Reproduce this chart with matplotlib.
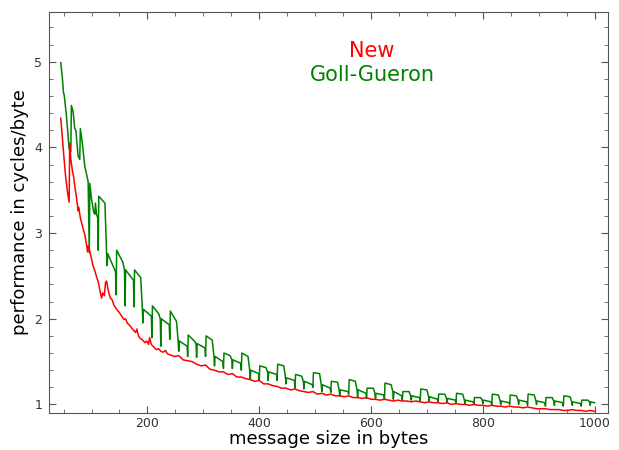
import matplotlib
matplotlib.use("Agg")
import matplotlib.pyplot as plt
from matplotlib.ticker import MultipleLocator

# --- Goll-Gueron: first bytes, drawn vertex by vertex ---
gg_head_x = [45, 48, 50, 51, 55, 60, 63, 64, 67, 70, 72, 76, 79, 80, 83, 88, 94, 96, 97, 100, 104, 106, 107, 109, 111]
gg_head_y = [4.99, 4.80, 4.63, 4.62, 4.38, 3.98, 3.95, 4.49, 4.42, 4.22, 4.20, 3.90, 3.86, 4.22, 4.08, 3.78, 3.60,
             2.77, 3.58, 3.40, 3.24, 3.22, 3.35, 3.22, 3.18]

# --- Goll-Gueron: one step every 32 bytes from 112 on ---
gg_rise = [112, 144, 176, 208, 240, 272, 304, 336, 368, 400, 432, 464, 496, 528,
           560, 592, 624, 656, 688, 720, 752, 784, 816, 848, 880, 912, 944, 976]
gg_dip = [2.80, 2.28, 2.14, 1.78, 1.76, 1.56, 1.56, 1.42, 1.40, 1.28, 1.28, 1.19, 1.20, 1.14,
          1.12, 1.07, 1.06, 1.05, 1.04, 1.02, 1.01, 1.00, 0.99, 1.00, 0.99, 0.98, 0.98, 0.98]
gg_top = [3.43, 2.80, 2.57, 2.15, 2.09, 1.81, 1.80, 1.60, 1.60, 1.45, 1.47, 1.35, 1.37, 1.27,
          1.29, 1.19, 1.25, 1.15, 1.18, 1.12, 1.13, 1.08, 1.12, 1.11, 1.12, 1.08, 1.10, 1.05]
gg_shoulder = [3.35, 2.66, 2.48, 2.06, 1.97, 1.74, 1.75, 1.57, 1.56, 1.43, 1.45, 1.33, 1.36, 1.26,
               1.27, 1.19, 1.23, 1.15, 1.17, 1.12, 1.12, 1.08, 1.11, 1.10, 1.11, 1.08, 1.09, 1.05]
gg_low = [2.76, 2.57, 2.11, 2.00, 1.74, 1.71, 1.56, 1.52, 1.40, 1.38, 1.31, 1.27, 1.23, 1.17,
          1.17, 1.13, 1.15, 1.10, 1.09, 1.07, 1.05, 1.05, 1.04, 1.05, 1.04, 1.04, 1.03, 1.03]
gg_mid_dip = [2.62, 2.15, 1.95, 1.68, 1.62, 1.55, 1.45, 1.42, 1.30, 1.28, 1.24, 1.18, 1.15, 1.10,
              1.08, 1.07, 1.06, 1.05, 1.04, 1.02, 1.01, 1.01, 1.00, 1.00, 1.00, 0.99, 0.99, 0.99]
gg_end = [2.55, 2.45, 2.03, 1.93, 1.68, 1.66, 1.50, 1.48, 1.36, 1.35, 1.28, 1.23, 1.19, 1.15,
          1.13, 1.11, 1.10, 1.08, 1.06, 1.05, 1.03, 1.03, 1.02, 1.03, 1.02, 1.02, 1.01, 1.02]

# --- New ---
new_x = [45, 48, 51, 54, 57, 60, 61, 63, 66, 68, 70, 73, 76, 77, 80, 83, 85, 88, 91, 93,
         94, 97, 100, 103, 106, 109, 112, 115, 118, 120, 123, 125, 127, 129, 131, 134, 137, 140, 143, 146,
         149, 152, 155, 158, 161, 164, 167, 170, 173, 176, 179, 181, 184, 187, 190, 193, 196, 199, 202, 204,
         207, 210, 213, 216, 220, 224, 228, 232, 236, 240] + list(range(248, 1001, 8))
new_y = [4.34, 4.10, 3.86, 3.64, 3.48, 3.36, 4.05, 3.86, 3.72, 3.66, 3.55, 3.42, 3.26, 3.30, 3.18, 3.10, 3.05, 2.98, 2.87, 2.78,
         2.85, 2.79, 2.70, 2.61, 2.56, 2.49, 2.43, 2.33, 2.24, 2.30, 2.27, 2.42, 2.44, 2.36, 2.30, 2.24, 2.22, 2.16, 2.13, 2.10,
         2.08, 2.05, 2.02, 1.99, 2.00, 1.95, 1.93, 1.91, 1.88, 1.86, 1.84, 1.88, 1.80, 1.77, 1.76, 1.74, 1.72, 1.74, 1.70, 1.78,
         1.70, 1.68, 1.66, 1.64, 1.65, 1.62, 1.61, 1.63, 1.59, 1.58,
         1.56, 1.57, 1.52, 1.51, 1.50, 1.47, 1.45, 1.46, 1.41, 1.40, 1.38, 1.38, 1.35, 1.36, 1.32, 1.32,
         1.30, 1.29, 1.27, 1.28, 1.24, 1.24, 1.22, 1.21, 1.19, 1.19, 1.17, 1.18, 1.16, 1.15, 1.14, 1.15,
         1.12, 1.13, 1.11, 1.12, 1.10, 1.10, 1.09, 1.10, 1.08, 1.08, 1.07, 1.08, 1.06, 1.06, 1.05, 1.06,
         1.05, 1.04, 1.05, 1.04, 1.04, 1.03, 1.04, 1.03, 1.02, 1.03, 1.02, 1.02, 1.01, 1.02, 1.00, 1.01,
         1.00, 1.00, 0.99, 1.00, 0.99, 0.99, 0.98, 0.99, 0.98, 0.98, 0.97, 0.98, 0.97, 0.97, 0.96, 0.97,
         0.96, 0.95, 0.95, 0.95, 0.94, 0.94, 0.94, 0.93, 0.93, 0.94, 0.93, 0.93, 0.92, 0.93, 0.92]

X_LAST = 1000


def goll_gueron_line():
    xs, ys = list(gg_head_x), list(gg_head_y)
    for i, r in enumerate(gg_rise):
        pts = [(r, gg_dip[i]), (r + 1, gg_top[i]), (r + 12, gg_shoulder[i]),
               (r + 15, gg_low[i]), (r + 16, gg_mid_dip[i]), (r + 17, gg_low[i]),
               (r + 31, gg_end[i])]
        for x, y in pts:
            if xs and x <= xs[-1]:
                continue
            xs.append(min(x, X_LAST))
            ys.append(y)
            if x >= X_LAST:
                break
    return xs, ys


def main() -> None:
    fig = plt.figure(figsize=(6.19, 4.5), dpi=100)
    ax = fig.add_axes([0.0792, 0.0822, 0.9031, 0.8911])

    gx, gy = goll_gueron_line()
    ax.plot(gx, gy, color="#008000", lw=1.1)
    ax.plot(new_x, new_y, color="#ff0000", lw=1.1)

    ax.set_xlim(24, 1024)
    ax.set_ylim(0.9, 5.58)
    ax.xaxis.set_major_locator(MultipleLocator(200))
    ax.xaxis.set_minor_locator(MultipleLocator(50))
    ax.yaxis.set_major_locator(MultipleLocator(1))
    ax.yaxis.set_minor_locator(MultipleLocator(0.2))
    ax.tick_params(which="both", direction="in", top=True, right=True,
                   color="#555555", labelsize=9, labelcolor="#333333")
    ax.tick_params(axis="x", pad=3)
    ax.tick_params(axis="y", pad=5)
    ax.tick_params(which="major", length=5)
    ax.tick_params(which="minor", length=3)
    for s in ax.spines.values():
        s.set_color("#555555")

    ax.set_xlabel("message size in bytes", fontsize=13, labelpad=0)
    ax.set_ylabel("performance in cycles/byte", fontsize=13, labelpad=4)

    ax.text(0.578, 0.903, "New", color="#ff0000", fontsize=15,
            ha="center", va="center", transform=ax.transAxes)
    ax.text(0.578, 0.843, "Goll-Gueron", color="#008000", fontsize=15,
            ha="center", va="center", transform=ax.transAxes)

    fig.savefig("out.png", dpi=100)


if __name__ == "__main__":
    main()
